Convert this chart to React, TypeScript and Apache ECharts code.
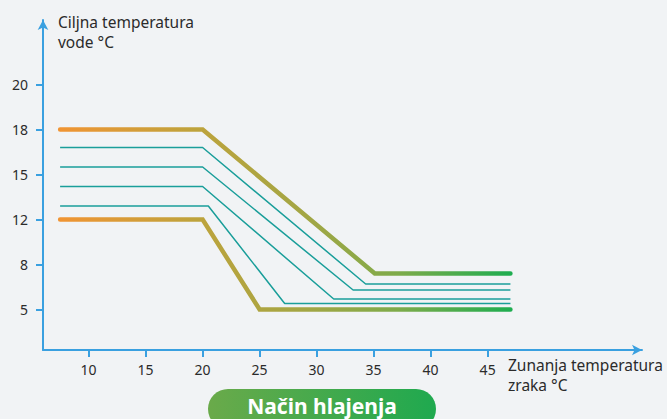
import React, { useEffect, useRef } from "react";
import * as echarts from "echarts";

// Outdoor air temperature (°C) tick labels on the x axis
const xTicks = [10, 15, 20, 25, 30, 35, 40, 45];
// Target water temperature tick labels on the y axis (drawn evenly spaced)
const yTicks = [5, 8, 12, 15, 18, 20];

// Curves: [outdoor temp, water temp]
const upperCurve: [number, number][] = [[7.5, 18], [20, 18], [35.1, 7.4], [47, 7.4]];
const lowerCurve: [number, number][] = [[7.5, 12], [20, 12], [25, 5], [47, 5]];
const mid1: [number, number][] = [[7.5, 16.8], [20, 16.8], [34.3, 6.7], [47, 6.7]];
const mid2: [number, number][] = [[7.5, 15.5], [20, 15.5], [33.2, 6.3], [47, 6.3]];
const mid3: [number, number][] = [[7.5, 14.2], [20, 14.2], [31.5, 5.7], [47, 5.7]];
const mid4: [number, number][] = [[7.5, 12.9], [20.5, 12.9], [27.2, 5.4], [47, 5.4]];

const yTitle = "Ciljna temperatura\nvode °C";
const xTitle = "Zunanja temperatura\nzraka °C";
const buttonLabel = "Način hlajenja";

// map a temperature onto the evenly spaced y tick positions (5 -> 1, 8 -> 2, ...)
function toPos(t: number): number {
  for (let i = 0; i < yTicks.length - 1; i++) {
    const a = yTicks[i], b = yTicks[i + 1];
    if (t <= b || i === yTicks.length - 2) {
      return i + 1 + (t - a) / (b - a);
    }
  }
  return 1;
}
const posData = (d: [number, number][]) => d.map(([x, t]) => [x, toPos(t)]);

export default function App() {
  const ref = useRef<HTMLDivElement>(null);
  useEffect(() => {
    document.body.style.margin = "0";
    const chart = echarts.init(ref.current!, null, { renderer: "svg" });
    const axisColor = "#3aa0e0";
    const font = "Noto Sans";
    const thickGrad = new echarts.graphic.LinearGradient(0, 0, 1, 0, [
      { offset: 0, color: "#f09433" },
      { offset: 0.3, color: "#bea33c" },
      { offset: 0.55, color: "#a2a644" },
      { offset: 0.75, color: "#7eab4a" },
      { offset: 1, color: "#1fad50" },
    ]);
    const thin = (data: [number, number][], name: string) => ({
      type: "line",
      name,
      data: posData(data),
      symbol: "none",
      lineStyle: { color: "#1a9e9a", width: 1.5 },
      z: 2,
    });
    const thick = (data: [number, number][], name: string) => ({
      type: "line",
      name,
      data: posData(data),
      symbol: "none",
      lineStyle: { color: thickGrad, width: 4.5, cap: "round", join: "miter" },
      z: 3,
    });
    chart.setOption({
      animation: false,
      backgroundColor: "#f1f3f5",
      textStyle: { fontFamily: font },
      grid: { left: 43, right: 25, top: 20, bottom: 69 },
      xAxis: {
        type: "value",
        min: 6,
        max: 58.54,
        name: xTitle,
        nameLocation: "end",
        nameGap: -134,
        nameTextStyle: {
          fontFamily: font,
          fontSize: 15.5,
          color: "#2b2b2b",
          align: "left",
          verticalAlign: "top",
          lineHeight: 20,
          padding: [5, 0, 0, 0],
        },
        axisLine: {
          lineStyle: { color: axisColor, width: 2 },
          symbol: ["none", "arrow"],
          symbolSize: [8, 10],
        },
        axisTick: { show: true, length: 7, lineStyle: { color: axisColor, width: 2 }, customValues: xTicks },
        axisLabel: {
          customValues: xTicks,
          color: "#2b2b2b",
          fontSize: 14,
          fontFamily: font,
          margin: 12,
        },
        splitLine: { show: false },
      },
      yAxis: {
        type: "value",
        min: 0.1,
        max: 0.1 + 330 / 45,
        name: yTitle,
        nameLocation: "end",
        nameGap: 8,
        nameTextStyle: {
          fontFamily: font,
          fontSize: 15.5,
          color: "#2b2b2b",
          align: "left",
          verticalAlign: "top",
          lineHeight: 20,
          padding: [0, 0, 0, 15],
        },
        axisLine: {
          show: true,
          lineStyle: { color: axisColor, width: 2 },
          symbol: ["none", "arrow"],
          symbolSize: [8, 10],
        },
        axisTick: {
          show: true,
          length: 7,
          lineStyle: { color: axisColor, width: 2 },
          customValues: yTicks.map((_, i) => i + 1),
        },
        axisLabel: {
          customValues: yTicks.map((_, i) => i + 1),
          color: "#2b2b2b",
          fontSize: 14,
          fontFamily: font,
          margin: 15,
          formatter: (v: number) => String(yTicks[Math.round(v) - 1] ?? ""),
        },
        splitLine: { show: false },
      },
      series: [
        thin(mid1, "mid1"),
        thin(mid2, "mid2"),
        thin(mid3, "mid3"),
        thin(mid4, "mid4"),
        thick(upperCurve, "upper"),
        thick(lowerCurve, "lower"),
      ],
      graphic: [
        {
          type: "group",
          left: 208,
          top: 389,
          children: [
            {
              type: "rect",
              shape: { x: 0, y: 0, width: 228, height: 40, r: 20 },
              style: {
                fill: new echarts.graphic.LinearGradient(0, 0, 1, 0, [
                  { offset: 0, color: "#6aaa4a" },
                  { offset: 1, color: "#1fa94f" },
                ]),
              },
            },
            {
              type: "text",
              x: 114,
              y: 17,
              style: {
                text: buttonLabel,
                fill: "#ffffff",
                font: `bold 21px "${font}"`,
                align: "center",
                verticalAlign: "middle",
              },
            },
          ],
        },
      ],
    });
    return () => chart.dispose();
  }, []);
  return <div ref={ref} style={{ position: "fixed", left: 0, top: 0, width: 667, height: 419 }} />;
}
